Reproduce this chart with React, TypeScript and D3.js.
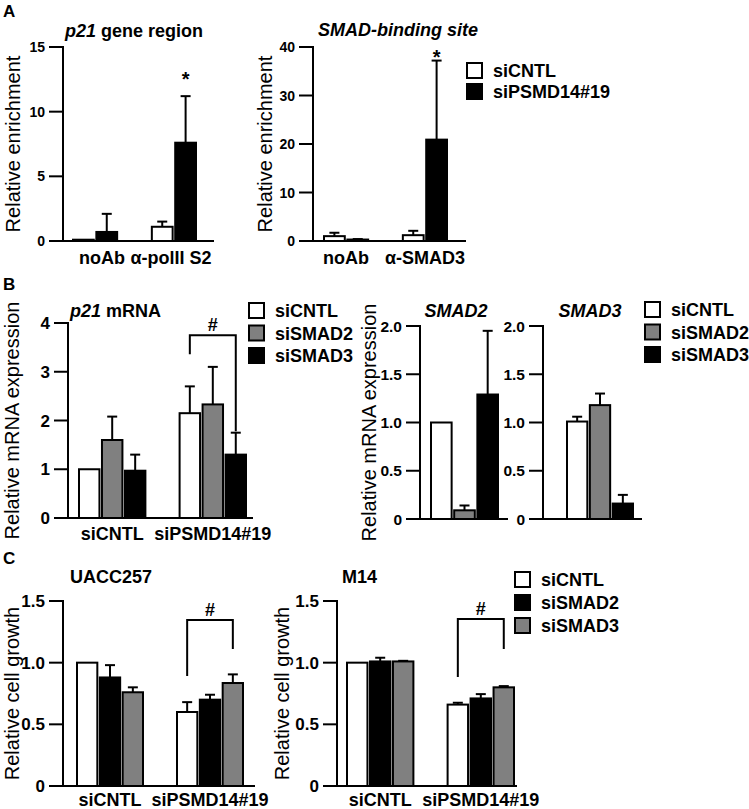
import React from "react";
import * as d3 from "d3";

const FONT = "'Liberation Sans', Arial, Helvetica, sans-serif";
const GRAY = "#808080";

// ---- data ----
// A: ChIP
const aSeries = ["siCNTL", "siPSMD14#19"];
const a1Groups = ["noAb", "α-polII S2"];
const a1Cntl = [0.1, 1.1];
const a1CntlErr = [0, 0.4];
const a1Si = [0.7, 7.6];
const a1SiErr = [1.4, 3.6];
const a1Ticks = [0, 5, 10, 15];

const a2Groups = ["noAb", "α-SMAD3"];
const a2Cntl = [1.0, 1.2];
const a2CntlErr = [0.7, 0.9];
const a2Si = [0.3, 20.9];
const a2SiErr = [0.1, 16.3];
const a2Ticks = [0, 10, 20, 30, 40];

// B: mRNA
const bSeries = ["siCNTL", "siSMAD2", "siSMAD3"];
const b1Groups = ["siCNTL", "siPSMD14#19"];
const b1Cntl = [1.0, 2.15];
const b1CntlErr = [0, 0.55];
const b1Smad2 = [1.6, 2.33];
const b1Smad2Err = [0.48, 0.77];
const b1Smad3 = [0.97, 1.3];
const b1Smad3Err = [0.33, 0.45];
const b1Ticks = [0, 1, 2, 3, 4];

const b2Values = [1.0, 0.09, 1.29];
const b2Err = [0, 0.05, 0.66];
const b3Values = [1.01, 1.18, 0.16];
const b3Err = [0.05, 0.12, 0.09];
const bSmallTicks = [0, 0.5, 1.0, 1.5, 2.0];

// C: cell growth
const cSeries = ["siCNTL", "siSMAD2", "siSMAD3"];
const cGroups = ["siCNTL", "siPSMD14#19"];
const c1Cntl = [1.0, 0.6];
const c1CntlErr = [0, 0.08];
const c1Smad2 = [0.88, 0.7];
const c1Smad2Err = [0.1, 0.04];
const c1Smad3 = [0.76, 0.835];
const c1Smad3Err = [0.04, 0.07];
const c2Cntl = [1.0, 0.66];
const c2CntlErr = [0, 0.015];
const c2Smad2 = [1.01, 0.71];
const c2Smad2Err = [0.03, 0.035];
const c2Smad3 = [1.01, 0.8];
const c2Smad3Err = [0.005, 0.01];
const cTicks = [0, 0.5, 1.0, 1.5];

type Series = { name: string; fill: string; mean: number[]; err: number[] };
type Bracket = { group: number; from: number; to: number; top: number; lb: number; rb: number };
type PanelCfg = {
  x0: number; x1: number; yTop: number; yBot: number; max: number;
  ticks: number[]; fmt: (v: number) => string; tickSize: number;
  groups: string[]; showGroupLabels: boolean; labelDx?: number[]; series: Series[];
  barA: number; barB: number; groupPad: number;
  title: React.ReactNode; titleX: number; titleY: number; titleAnchor?: string;
  yLabel: string; yLabelX: number; xLabelY: number;
  stars?: { group: number; s: number; v: number }[];
  brackets?: Bracket[];
};

function Panel({ c }: { c: PanelCfg }) {
  const y = d3.scaleLinear().domain([0, c.max]).range([c.yBot, c.yTop]);
  const gx = d3.scaleBand<number>()
    .domain(c.groups.map((_, i) => i))
    .range([c.barA, c.barB])
    .paddingInner(c.groupPad)
    .paddingOuter(0);
  const sx = d3.scaleBand<number>()
    .domain(c.series.map((_, i) => i))
    .range([0, gx.bandwidth()])
    .paddingInner(0.11)
    .paddingOuter(0);
  const bw = sx.bandwidth();
  const cx = (g: number, s: number) => (gx(g) as number) + (sx(s) as number) + bw / 2;
  const midY = (c.yTop + c.yBot) / 2;
  return (
    <g>
      <text x={c.titleX} y={c.titleY} textAnchor={c.titleAnchor || "start"} fontSize={18} fontWeight="bold">{c.title}</text>
      {c.yLabel && (
        <text transform={`translate(${c.yLabelX},${midY}) rotate(-90)`} textAnchor="middle" fontSize={20}>{c.yLabel}</text>
      )}
      {c.ticks.map((t) => (
        <g key={t}>
          <line x1={c.x0 - 14} x2={c.x0} y1={y(t)} y2={y(t)} stroke="#000" strokeWidth={2} />
          <text x={c.x0 - 18} y={y(t)} dy="0.36em" textAnchor="end" fontSize={c.tickSize} fontWeight="bold">{c.fmt(t)}</text>
        </g>
      ))}
      {c.series.map((s, si) =>
        s.mean.map((m, gi) => {
          const x = (gx(gi) as number) + (sx(si) as number);
          const top = y(m);
          const e = s.err[gi];
          return (
            <g key={`${si}-${gi}`}>
              {e > 0 && (
                <g stroke="#000" strokeWidth={2}>
                  <line x1={x + bw / 2} x2={x + bw / 2} y1={top} y2={y(m + e)} />
                  <line x1={x + bw / 2 - 5} x2={x + bw / 2 + 5} y1={y(m + e)} y2={y(m + e)} />
                </g>
              )}
              <rect x={x} y={top} width={bw} height={c.yBot - top} fill={s.fill} stroke="#000" strokeWidth={2} />
            </g>
          );
        })
      )}
      <line x1={c.x0} x2={c.x0} y1={c.yTop - 1} y2={c.yBot + 1} stroke="#000" strokeWidth={2} />
      <line x1={c.x0} x2={c.x1} y1={c.yBot} y2={c.yBot} stroke="#000" strokeWidth={2} />
      {c.showGroupLabels && c.groups.map((g, i) => (
        <text key={g} x={(gx(i) as number) + gx.bandwidth() / 2 + (c.labelDx ? c.labelDx[i] : 0)} y={c.xLabelY}
          textAnchor="middle" fontSize={18} fontWeight="bold">{g}</text>
      ))}
      {(c.stars || []).map((st, i) => (
        <text key={i} x={cx(st.group, st.s)} y={y(st.v)} textAnchor="middle" fontSize={20} fontWeight="bold">*</text>
      ))}
      {(c.brackets || []).map((b, i) => {
        const xl = cx(b.group, b.from);
        const xr = cx(b.group, b.to);
        return (
          <g key={i}>
            <path d={`M${xl},${y(b.lb)}V${y(b.top)}H${xr}V${y(b.rb)}`} fill="none" stroke="#000" strokeWidth={2} />
            <text x={(xl + xr) / 2} y={y(b.top) - 4} textAnchor="middle" fontSize={18} fontWeight="bold">#</text>
          </g>
        );
      })}
    </g>
  );
}

function Legend({ x, y, gap, items }: { x: number; y: number; gap: number; items: { name: string; fill: string }[] }) {
  return (
    <g>
      {items.map((it, i) => (
        <g key={it.name} transform={`translate(${x},${y + i * gap})`}>
          <rect x={0} y={0} width={15} height={15} fill={it.fill} stroke="#000" strokeWidth={2} />
          <text x={26} y={14} fontSize={18} fontWeight="bold">{it.name}</text>
        </g>
      ))}
    </g>
  );
}

const fmtInt = (v: number) => d3.format("d")(v);
const fmt1 = (v: number) => (v === 0 ? "0" : d3.format(".1f")(v));

export default function App() {
  const aFill = ["#fff", "#000"];
  const bFill = ["#fff", GRAY, "#000"];
  const cFill = ["#fff", "#000", GRAY];

  const a1: PanelCfg = {
    x0: 63, x1: 214, yTop: 47, yBot: 241, max: 15, ticks: a1Ticks, fmt: fmtInt, tickSize: 14,
    groups: a1Groups, showGroupLabels: true, labelDx: [7, -3],
    series: [
      { name: aSeries[0], fill: aFill[0], mean: a1Cntl, err: a1CntlErr },
      { name: aSeries[1], fill: aFill[1], mean: a1Si, err: a1SiErr },
    ],
    barA: 73, barB: 196, groupPad: 0.44,
    title: <><tspan fontStyle="italic">p21</tspan> gene region</>, titleX: 65, titleY: 37,
    yLabel: "Relative enrichment", yLabelX: 20, xLabelY: 264,
    stars: [{ group: 1, s: 1, v: 12.0 }],
  };
  const a2: PanelCfg = {
    x0: 313, x1: 466, yTop: 47, yBot: 241, max: 40, ticks: a2Ticks, fmt: fmtInt, tickSize: 14,
    groups: a2Groups, showGroupLabels: true,
    series: [
      { name: aSeries[0], fill: aFill[0], mean: a2Cntl, err: a2CntlErr },
      { name: aSeries[1], fill: aFill[1], mean: a2Si, err: a2SiErr },
    ],
    barA: 324, barB: 447, groupPad: 0.44,
    title: <tspan fontStyle="italic">SMAD-binding site</tspan>, titleX: 318, titleY: 36,
    yLabel: "Relative enrichment", yLabelX: 272, xLabelY: 264,
    stars: [{ group: 1, s: 1, v: 36.5 }],
  };
  const b1: PanelCfg = {
    x0: 68, x1: 253, yTop: 323, yBot: 518, max: 4, ticks: b1Ticks, fmt: fmtInt, tickSize: 17,
    groups: b1Groups, showGroupLabels: true,
    series: [
      { name: bSeries[0], fill: bFill[0], mean: b1Cntl, err: b1CntlErr },
      { name: bSeries[1], fill: bFill[1], mean: b1Smad2, err: b1Smad2Err },
      { name: bSeries[2], fill: bFill[2], mean: b1Smad3, err: b1Smad3Err },
    ],
    barA: 79, barB: 246, groupPad: 0.34,
    title: <><tspan fontStyle="italic">p21</tspan> mRNA</>, titleX: 70, titleY: 317,
    yLabel: "Relative mRNA expression", yLabelX: 19, xLabelY: 540,
    brackets: [{ group: 1, from: 0, to: 2, top: 3.75, lb: 3.36, rb: 1.78 }],
  };
  const b2: PanelCfg = {
    x0: 420, x1: 508, yTop: 326, yBot: 519, max: 2, ticks: bSmallTicks, fmt: fmt1, tickSize: 15.5,
    groups: ["SMAD2"], showGroupLabels: false,
    series: bSeries.map((n, i) => ({ name: n, fill: bFill[i], mean: [b2Values[i]], err: [b2Err[i]] })),
    barA: 431, barB: 498, groupPad: 0,
    title: <tspan fontStyle="italic">SMAD2</tspan>, titleX: 456, titleY: 317, titleAnchor: "middle",
    yLabel: "Relative mRNA expression", yLabelX: 376, xLabelY: 540,
  };
  const b3: PanelCfg = {
    x0: 543, x1: 642, yTop: 326, yBot: 519, max: 2, ticks: bSmallTicks, fmt: fmt1, tickSize: 15.5,
    groups: ["SMAD3"], showGroupLabels: false,
    series: bSeries.map((n, i) => ({ name: n, fill: bFill[i], mean: [b3Values[i]], err: [b3Err[i]] })),
    barA: 567, barB: 633, groupPad: 0,
    title: <tspan fontStyle="italic">SMAD3</tspan>, titleX: 590, titleY: 317, titleAnchor: "middle",
    yLabel: "", yLabelX: 0, xLabelY: 540,
  };
  const c1: PanelCfg = {
    x0: 63, x1: 255, yTop: 601, yBot: 786, max: 1.5, ticks: cTicks, fmt: fmt1, tickSize: 17,
    groups: cGroups, showGroupLabels: true,
    series: [
      { name: cSeries[0], fill: cFill[0], mean: c1Cntl, err: c1CntlErr },
      { name: cSeries[1], fill: cFill[1], mean: c1Smad2, err: c1Smad2Err },
      { name: cSeries[2], fill: cFill[2], mean: c1Smad3, err: c1Smad3Err },
    ],
    barA: 77, barB: 243, groupPad: 0.34,
    title: "UACC257", titleX: 70, titleY: 583,
    yLabel: "Relative cell growth", yLabelX: 19, xLabelY: 806,
    brackets: [{ group: 1, from: 0, to: 2, top: 1.346, lb: 0.892, rb: 1.11 }],
  };
  const c2: PanelCfg = {
    x0: 337, x1: 517, yTop: 601, yBot: 786, max: 1.5, ticks: cTicks, fmt: fmt1, tickSize: 17,
    groups: cGroups, showGroupLabels: true,
    series: [
      { name: cSeries[0], fill: cFill[0], mean: c2Cntl, err: c2CntlErr },
      { name: cSeries[1], fill: cFill[1], mean: c2Smad2, err: c2Smad2Err },
      { name: cSeries[2], fill: cFill[2], mean: c2Smad3, err: c2Smad3Err },
    ],
    barA: 347, barB: 514, groupPad: 0.34,
    title: "M14", titleX: 342, titleY: 583,
    yLabel: "Relative cell growth", yLabelX: 289, xLabelY: 806,
    brackets: [{ group: 1, from: 0, to: 2, top: 1.354, lb: 0.884, rb: 1.11 }],
  };

  return (
    <svg width={749} height={809} style={{ position: "absolute", left: 0, top: 0, background: "#fff" }}
      fontFamily={FONT}>
      <rect width={749} height={809} fill="#fff" />
      <text x={3} y={17} fontSize={17} fontWeight="bold">A</text>
      <text x={3} y={290} fontSize={17} fontWeight="bold">B</text>
      <text x={3} y={564} fontSize={17} fontWeight="bold">C</text>
      <Panel c={a1} />
      <Panel c={a2} />
      <Legend x={467} y={63} gap={21} items={aSeries.map((n, i) => ({ name: n, fill: aFill[i] }))} />
      <Panel c={b1} />
      <Legend x={249} y={303} gap={22.5} items={bSeries.map((n, i) => ({ name: n, fill: bFill[i] }))} />
      <Panel c={b2} />
      <Panel c={b3} />
      <Legend x={645} y={302} gap={22.5} items={bSeries.map((n, i) => ({ name: n, fill: bFill[i] }))} />
      <Panel c={c1} />
      <Panel c={c2} />
      <Legend x={515} y={572} gap={23} items={cSeries.map((n, i) => ({ name: n, fill: cFill[i] }))} />
    </svg>
  );
}
